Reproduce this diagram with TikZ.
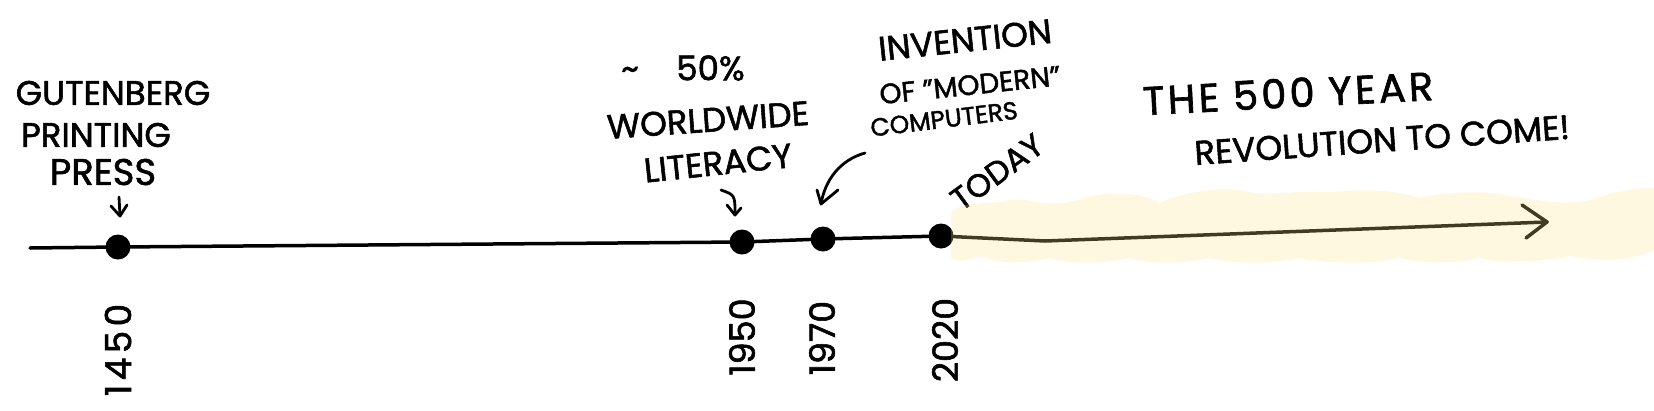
\documentclass[tikz,border=0pt]{standalone}
\usepackage{fontspec}
\setmainfont{Poppins}[BoldFont=Poppins, BoldFeatures={FakeBold=1.6}]
\usetikzlibrary{arrows.meta}
\definecolor{bandc}{RGB}{255,228,140}
\newcommand{\fs}[1]{\fontsize{#1}{#1}\selectfont\bfseries}
\tikzset{
  lab/.style={inner sep=0pt, anchor=center},
  yr/.style={inner sep=0pt, rotate=90, font=\fs{35}},
  dotn/.style={circle, fill=black, minimum size=25pt, inner sep=0pt},
  pen/.style={line width=3.5pt, line cap=round, line join=round},
  thinpen/.style={line width=2.8pt, line cap=round, line join=round},
}
\begin{document}
\begin{tikzpicture}[x=1pt,y=-1pt]
\useasboundingbox (0,0) rectangle (1654,410);
% timeline
\coordinate (start) at (30,248);
\coordinate (dip) at (1045,241);
\coordinate (tip) at (1547,222);
\node[dotn] (d1450) at (118,247) {};
\node[dotn] (d1950) at (742,242) {};
\node[dotn] (d1970) at (823,239) {};
\node[dotn] (d2020) at (941,236) {};
\draw[pen] (start) -- (d1450.center) -- (d1950.center) -- (d1970.center) -- (d2020.center) -- (dip) -- (tip);
\draw[pen] (1522,205) -- (tip) -- (1526,238);
% labels
\node[lab, font=\fs{34}] (g1) at (113,93) {GUTENBERG};
\node[lab, font=\fs{34}] (g2) at (96,135) {PRINTING};
\node[lab, font=\fs{37}] (g3) at (103,172) {PRESS};
\coordinate (ga) at (119,197);
\coordinate (gb) at (120,216);
\draw[thinpen] (ga) -- (gb);
\draw[thinpen] (111,206) -- (gb) -- (127,205);

\node[lab, font=\fs{34}] (l1) at (683,68) {\char"007E\hspace{1.1em}50\%};
\node[lab, rotate=4, font=\fs{34}] (l2) at (708,120) {WORLDWIDE};
\node[lab, rotate=6, font=\fs{34}] (l3) at (718,163) {LITERACY};
\coordinate (la) at (721,190);
\coordinate (lb) at (735,215);
\draw[thinpen] (la) .. controls (735,195) .. (lb);
\draw[thinpen] (727,205) -- (lb) -- (741,208);

\node[lab, rotate=6, font=\fs{34}] (c1) at (965,40) {INVENTION};
\node[lab, rotate=6, font=\fs{28}] (c2) at (970,85) {OF "MODERN"};
\node[lab, rotate=7, font=\fs{25}] (c3) at (944,119) {COMPUTERS};
\coordinate (ca) at (865,153);
\coordinate (cb) at (821,204);
\draw[thinpen] (ca) .. controls (840,160) and (825,180) .. (cb);
\draw[thinpen] (817,190) -- (cb) -- (838,190);

\node[lab, rotate=36, font=\fs{32}] (today) at (997,172) {TODAY};

\node[lab, rotate=3, font=\fs{40}\addfontfeature{LetterSpace=8}] (r1) at (1288,93) {THE 500 YEAR};
\node[lab, rotate=4, font=\fs{34}] (r2) at (1382,140) {REVOLUTION TO COME!};

% years
\node[yr, font=\fs{36}\addfontfeature{LetterSpace=12}] (y1450) at (118,350) {1450};
\node[yr] (y1950) at (742,337) {1950};
\node[yr] (y1970) at (822,338) {1970};
\node[yr] (y2020) at (945,340) {2020};

% highlight band
\fill[bandc, fill opacity=0.26]
  (951,212) .. controls (965,200) and (990,205) .. (1010,200)
  .. controls (1030,197) and (1050,210) .. (1080,199)
  .. controls (1100,192) and (1140,190) .. (1160,203)
  .. controls (1180,193) and (1220,185) .. (1250,192)
  .. controls (1270,196) and (1300,190) .. (1330,192)
  .. controls (1360,190) and (1390,188) .. (1420,198)
  .. controls (1440,192) and (1490,190) .. (1510,196)
  .. controls (1540,200) and (1570,208) .. (1600,197)
  .. controls (1620,190) and (1640,188) .. (1654,188)
  -- (1654,250)
  .. controls (1630,262) and (1600,262) .. (1570,256)
  .. controls (1540,262) and (1500,264) .. (1480,258)
  .. controls (1460,263) and (1420,264) .. (1400,258)
  .. controls (1380,263) and (1330,265) .. (1300,258)
  .. controls (1280,263) and (1240,265) .. (1210,258)
  .. controls (1190,263) and (1150,265) .. (1130,258)
  .. controls (1110,263) and (1070,265) .. (1050,258)
  .. controls (1030,263) and (1000,265) .. (980,256)
  .. controls (965,262) and (955,262) .. (951,258) -- cycle;
\end{tikzpicture}
\end{document}
